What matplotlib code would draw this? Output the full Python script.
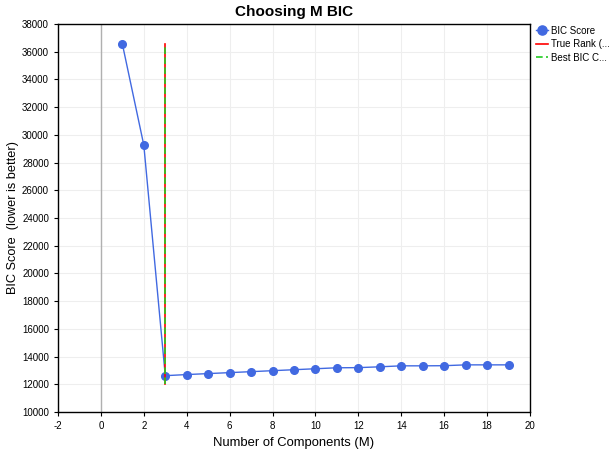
import matplotlib
matplotlib.use("Agg")
import matplotlib.pyplot as plt
import numpy as np

plt.rcParams['font.family'] = ['Liberation Sans', 'DejaVu Sans']
plt.rcParams['axes.unicode_minus'] = False

# data
components = [1, 2, 3, 4, 5, 6, 7, 8, 9, 10, 11, 12, 13, 14, 15, 16, 17, 18, 19]
bic_scores = [36550, 29250, 12620, 12700, 12770, 12840, 12910, 12980, 13050, 13120,
              13190, 13200, 13260, 13330, 13330, 13340, 13400, 13400, 13400]
true_rank = 3
best_m = 3
line_low = 12000
legend_labels = ["BIC Score", "True Rank (...", "Best BIC C..."]
x_ticks = [-2, 0, 2, 4, 6, 8, 10, 12, 14, 16, 18, 20]
y_ticks = list(range(10000, 38001, 2000))

fig = plt.figure(figsize=(6.15, 4.51), dpi=100)
ax = fig.add_axes([0.0943, 0.0865, 0.7675, 0.8605])

ax.axvline(0, color='#b0b0b0', lw=1, zorder=1)
ax.plot(components, bic_scores, color='royalblue', lw=1, marker='o', ms=5.5,
        label=legend_labels[0], zorder=3)
top = max(bic_scores)
ax.plot([true_rank, true_rank], [line_low, top], color='red', lw=1.2,
        label=legend_labels[1], zorder=4)
ax.plot([best_m, best_m], [line_low, top], color='#22cc22', lw=1.2,
        ls=(0, (4, 2)), label=legend_labels[2], zorder=5)

ax.set_xlim(-2, 20)
ax.set_ylim(10000, 38000)
ax.set_xticks(x_ticks)
ax.set_yticks(y_ticks)
ax.grid(True, color='#eeeeee', lw=0.8)
ax.set_axisbelow(True)
ax.tick_params(labelsize=7, length=3, width=0.8)
for s in ax.spines.values():
    s.set_linewidth(1)
    s.set_color('black')

ax.set_title("Choosing M BIC", fontsize=11, fontweight='bold', pad=6)
ax.set_xlabel("Number of Components (M)", fontsize=9.4)
ax.set_ylabel("BIC Score  (lower is better)", fontsize=9.2, labelpad=2)

leg = ax.legend(loc='upper left', bbox_to_anchor=(1.0, 1.01), frameon=False,
                fontsize=7, handlelength=1.3, handletextpad=0.3, borderaxespad=0.2,
                labelspacing=0.35, markerscale=1.2)

fig.savefig("out.png", dpi=100)
